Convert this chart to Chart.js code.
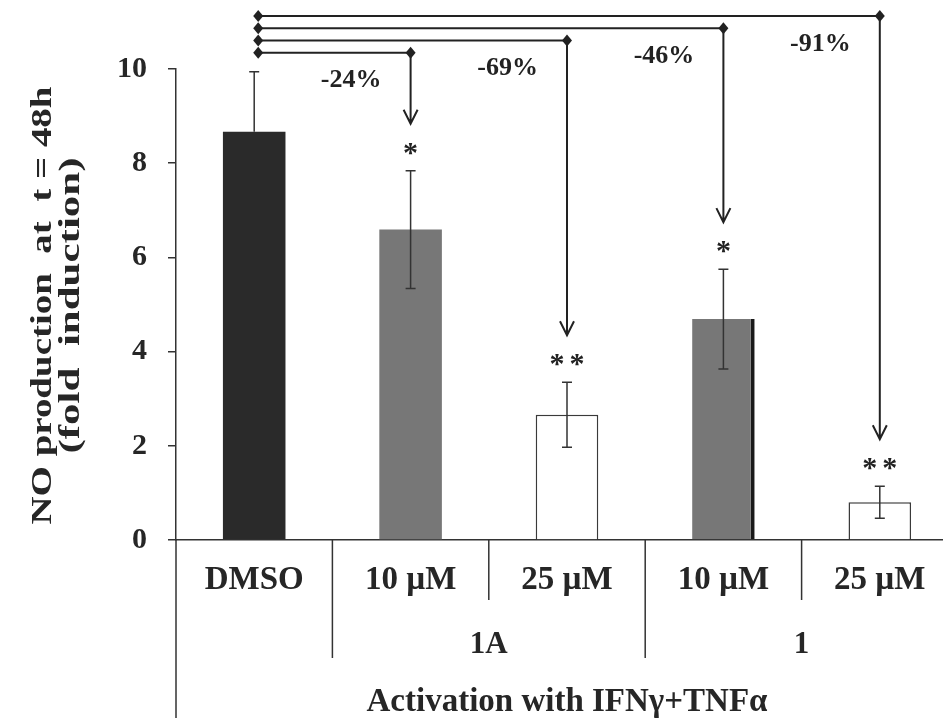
<!DOCTYPE html>
<html>
<head>
<meta charset="utf-8">
<script src="https://cdn.jsdelivr.net/npm/chart.js@4.4.1/dist/chart.umd.min.js"></script>
<style>
    html, body { margin: 0; padding: 0; background: #fff; overflow: hidden; }
    #wrap { width: 958px; height: 721px; }
</style>
</head>
<body>
<div id="wrap"><canvas id="noChart"></canvas></div>
<script>
// data
const doses = ["DMSO", "10 µM", "25 µM", "10 µM", "25 µM"];
const foldInduction = [8.67, 6.59, 2.66, 4.69, 0.80];
const sem = [1.27, 1.25, 0.69, 1.06, 0.34];
const stars = ["", "*", "**", "*", "**"];
const reduction = ["", "-24%", "-69%", "-46%", "-91%"];
const compounds = ["1A", "1"];
const compoundStart = [1, 3];
const yTicks = [0, 2, 4, 6, 8, 10];
const barColors = ["#2a2a2a", "#777777", "#ffffff", "#777777", "#ffffff"];

const SERIF = '"Liberation Serif", "Times New Roman", serif';
const INK = "#262626";

// text centred on its glyph box, not on the font box
function centerText(ctx, txt, x, y) {
    const m = ctx.measureText(txt);
    ctx.textAlign = "center";
    ctx.textBaseline = "alphabetic";
    ctx.fillText(txt, x, y + (m.actualBoundingBoxAscent - m.actualBoundingBoxDescent) / 2);
}

function diamond(ctx, x, y) {
    ctx.beginPath();
    ctx.moveTo(x, y - 6);
    ctx.lineTo(x + 5, y);
    ctx.lineTo(x, y + 6);
    ctx.lineTo(x - 5, y);
    ctx.closePath();
    ctx.fill();
}

const figurePlugin = {
    id: "figureExtras",
    afterDatasetsDraw(chart) {
        const ctx = chart.ctx;
        const y = chart.scales.y;
        const bars = chart.getDatasetMeta(0).data;
        ctx.save();
        ctx.strokeStyle = "#333";
        ctx.lineWidth = 1.5;
        bars.forEach((bar, i) => {
            const hi = y.getPixelForValue(foldInduction[i] + sem[i]);
            let lo = y.getPixelForValue(foldInduction[i] - sem[i]);
            const hideLower = barColors[i] === "#2a2a2a"; // lost inside the black bar
            if (hideLower) lo = bar.y;
            ctx.beginPath();
            ctx.moveTo(bar.x, hi); ctx.lineTo(bar.x, lo);
            ctx.moveTo(bar.x - 5, hi); ctx.lineTo(bar.x + 5, hi);
            if (!hideLower) { ctx.moveTo(bar.x - 5, lo); ctx.lineTo(bar.x + 5, lo); }
            ctx.stroke();
        });
        ctx.restore();
    },
    afterDraw(chart) {
        const ctx = chart.ctx;
        const area = chart.chartArea;
        const x = chart.scales.x;
        const y = chart.scales.y;
        const px = i => x.getPixelForValue(i);
        const catW = px(1) - px(0);

        ctx.save();
        ctx.fillStyle = INK;
        ctx.strokeStyle = "#333";
        ctx.lineWidth = 1.5;

        // multi-level axis dividers
        ctx.beginPath();
        ctx.moveTo(area.left, area.bottom);
        ctx.lineTo(area.left, area.bottom + 178);
        for (let i = 0; i < doses.length - 1; i++) {
            const bx = (px(i) + px(i + 1)) / 2;
            const isGroupEdge = compoundStart.includes(i + 1);
            ctx.moveTo(bx, area.bottom);
            ctx.lineTo(bx, area.bottom + (isGroupEdge ? 118 : 60));
        }
        ctx.stroke();

        // compound labels and axis title
        ctx.font = "bold 31px " + SERIF;
        compoundStart.forEach((s, k) => {
            centerText(ctx, compounds[k], (px(s) + px(s + 1)) / 2, area.bottom + 102);
        });
        ctx.font = "bold 33px " + SERIF;
        centerText(ctx, "Activation with IFNγ+TNFα", (area.left + area.right) / 2, area.bottom + 162);

        // y title, two stretched lines
        const yTitle = ["NO production  at  t = 48h", "(fold  induction)"];
        const titleLen = [438, 296];
        const titleX = [43, 72];
        const midY = (area.top + area.bottom) / 2;
        ctx.font = "bold 29px " + SERIF;
        yTitle.forEach((t, k) => {
            const w = ctx.measureText(t).width;
            ctx.save();
            ctx.translate(titleX[k], midY + 1);
            ctx.rotate(-Math.PI / 2);
            ctx.scale(titleLen[k] / w, 1);
            centerText(ctx, t, 0, 0);
            ctx.restore();
        });

        // comparison brackets, arrows, % and stars
        const bars = chart.getDatasetMeta(0).data;
        const x0 = bars[0].x + 4;
        ctx.lineWidth = 2;
        ctx.strokeStyle = "#222";
        ctx.fillStyle = "#222";
        for (let i = 1; i < doses.length; i++) {
            const lineY = area.top - 16.3 - (i - 1) * 12.2;
            const tx = bars[i].x;
            const errTop = y.getPixelForValue(foldInduction[i] + sem[i]);
            const starY = errTop - 22;
            const tipY = errTop - 47;

            ctx.beginPath();
            ctx.moveTo(x0, lineY); ctx.lineTo(tx, lineY);
            ctx.moveTo(tx, lineY); ctx.lineTo(tx, tipY);
            ctx.moveTo(tx - 7, tipY - 14); ctx.lineTo(tx, tipY); ctx.lineTo(tx + 7, tipY - 14);
            ctx.stroke();
            diamond(ctx, x0, lineY);
            diamond(ctx, tx, lineY);

            ctx.font = "bold 26px " + SERIF;
            centerText(ctx, reduction[i], tx - 0.38 * catW, lineY + 26);

            ctx.font = "bold 30px " + SERIF;
            const n = stars[i].length;
            for (let s = 0; s < n; s++) {
                centerText(ctx, "*", tx + (s - (n - 1) / 2) * 20, starY);
            }
        }
        ctx.restore();
    }
};

new Chart(document.getElementById("noChart").getContext("2d"), {
    type: "bar",
    data: {
        labels: doses,
        datasets: [{
            data: foldInduction,
            backgroundColor: barColors,
            borderColor: ["#2a2a2a", "#777777", "#3a3a3a", "#1a1a1a", "#3a3a3a"],
            borderWidth: ctx => {
                if (ctx.dataIndex === 3) return { top: 0, left: 0, right: 4, bottom: 0 };
                return barColors[ctx.dataIndex] === "#ffffff" ? 1.5 : 0;
            },
            borderSkipped: "bottom",
            categoryPercentage: 1,
            barPercentage: 0.4
        }]
    },
    options: {
        responsive: true,
        maintainAspectRatio: false,
        animation: false,
        layout: { padding: { top: 69, left: 0, right: 0, bottom: 0 } },
        plugins: {
            legend: { display: false },
            tooltip: { enabled: false }
        },
        scales: {
            x: {
                grid: { display: false, drawTicks: false },
                border: { display: true, color: "#333", width: 1.5 },
                ticks: {
                    color: INK,
                    font: { family: SERIF, size: 33, weight: "bold" },
                    padding: 21,
                    maxRotation: 0,
                    autoSkip: false
                },
                afterFit: scale => { scale.height = 181; }
            },
            y: {
                min: 0,
                max: 10,
                afterBuildTicks: scale => { scale.ticks = yTicks.map(v => ({ value: v })); },
                grid: { drawOnChartArea: false, drawTicks: true, tickLength: 8, color: "#333", lineWidth: 1.5 },
                border: { display: true, color: "#333", width: 1.5 },
                ticks: {
                    color: INK,
                    font: { family: SERIF, size: 30, weight: "bold" },
                    padding: 21
                },
                afterFit: scale => { scale.width = 176; }
            }
        }
    },
    plugins: [figurePlugin]
});
</script>
</body>
</html>
